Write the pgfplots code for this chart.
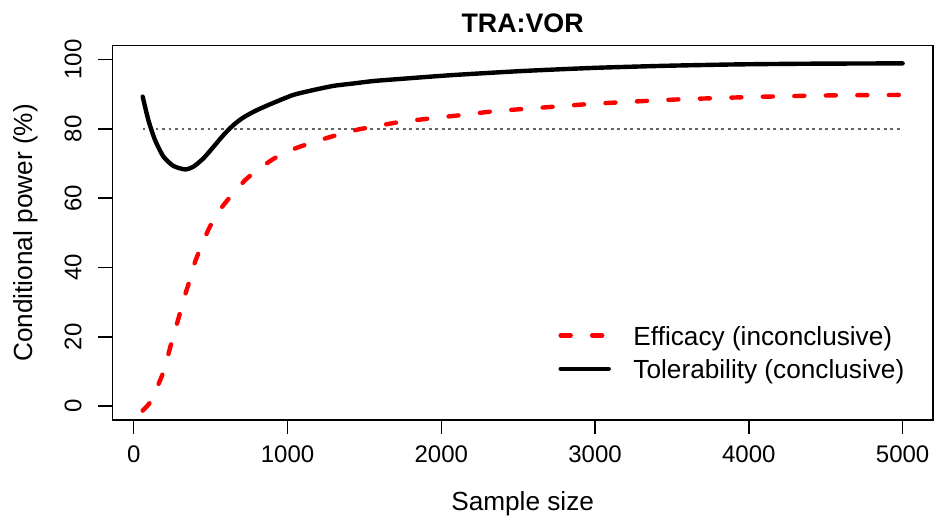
\documentclass[border=0pt]{standalone}
\usepackage{pgfplots}
\pgfplotsset{compat=1.18}
\usepackage{fontspec}
\setmainfont{Liberation Sans}
\definecolor{rred}{RGB}{255,0,0}
\definecolor{dotgray}{RGB}{100,100,100}
\begin{document}
\begin{tikzpicture}[x=1pt,y=1pt]
\path[use as bounding box] (0,0) rectangle (468.5,258.5);
\begin{axis}[
  at={(56.15pt,48.5pt)}, anchor=south west,
  scale only axis, width=410.35pt, height=187.15pt,
  xmin=-139.7, xmax=5197.7, ymin=-4, ymax=104,
  axis line style={line width=0.7pt},
  tick pos=left, tick align=outside, major tick length=7pt,
  every tick/.style={black, line width=0.7pt},
  xtick={0,1000,2000,3000,4000,5000},
  xticklabels={0,1000,2000,3000,4000,5000},
  ytick={0,20,40,60,80,100},
  yticklabels={0,20,40,60,80,100},
  xticklabel style={anchor=base, inner sep=0pt, font=\fontsize{12}{14.4}\selectfont},
  xticklabel shift=14.5pt,
  yticklabel style={rotate=90, anchor=base, inner sep=0pt, font=\fontsize{12}{14.4}\selectfont},
  yticklabel shift=8.5pt,
  every axis title shift=0pt,
  title={TRA:VOR},
  title style={at={(axis description cs:0.5,1.0353)}, anchor=base, inner sep=0pt, font=\bfseries\fontsize{13.4}{16}\selectfont},
  xlabel={Sample size},
  xlabel style={at={(axis description cs:0.5,-0.2405)}, anchor=base, inner sep=0pt, font=\fontsize{13.1}{15.7}\selectfont},
  ylabel={Conditional power (\%)},
  ylabel style={at={(axis description cs:-0.0978,0.5)}, anchor=base, inner sep=0pt, rotate=0, font=\fontsize{13.1}{15.7}\selectfont},
  legend cell align=left,
  legend image code/.code={\draw[#1] (0pt,5pt) -- (24pt,5pt);},
  legend style={at={(axis cs:2762,23.02)}, anchor=north west, draw=none, fill=none,
    inner sep=0pt, outer sep=0pt, row sep=4.2pt, column sep=11.3pt,
    nodes={inner sep=0pt, anchor=base west, text height=9.5pt, text depth=3pt, font=\fontsize{13.1}{15.7}\selectfont}},
]
\addplot[dotgray, line width=0.65pt, dash pattern=on 1.4pt off 1.85pt, forget plot] coordinates {(58,80) (5000,80)};
\addplot[rred, line width=2.2pt, line cap=round, line join=round, dash pattern=on 5pt off 10.75pt, smooth, tension=0.4] table {
x y
58 -1.3
110 1.3
160 6.3
193 9.9
225 15.0
250 19.1
283 24.1
307 27.9
340 33.0
366 36.6
399 41.7
431 45.2
479 50.3
518 53.7
583 58.0
648 61.4
724 65.2
789 67.6
886 70.7
962 72.7
1070 74.7
1168 76.1
1272 77.6
1363 78.7
1467 79.9
1558 80.6
1718 81.9
1925 83.0
2135 84.0
2345 85.1
2553 85.8
2763 86.5
2971 87.2
3181 87.7
3389 88.2
3598 88.6
3808 88.9
4016 89.2
4224 89.4
4434 89.6
4644 89.7
4852 89.75
5000 89.8
};
\addlegendentry{Efficacy (inconclusive)}
\addplot[black, line width=2.2pt, line cap=round, line join=round, smooth, tension=0.4] table {
x y
58 89.3
95 82.5
138 76.8
193 72.0
258 69.3
334 68.3
388 69.1
453 71.5
518 74.8
583 78.2
648 81.1
713 83.3
800 85.4
908 87.5
1038 89.8
1168 91.2
1298 92.4
1428 93.1
1558 93.8
1731 94.4
2066 95.5
2531 96.7
2995 97.6
3459 98.2
3923 98.6
4388 98.8
5000 98.9
};
\addlegendentry{Tolerability (conclusive)}
\end{axis}
\end{tikzpicture}
\end{document}
